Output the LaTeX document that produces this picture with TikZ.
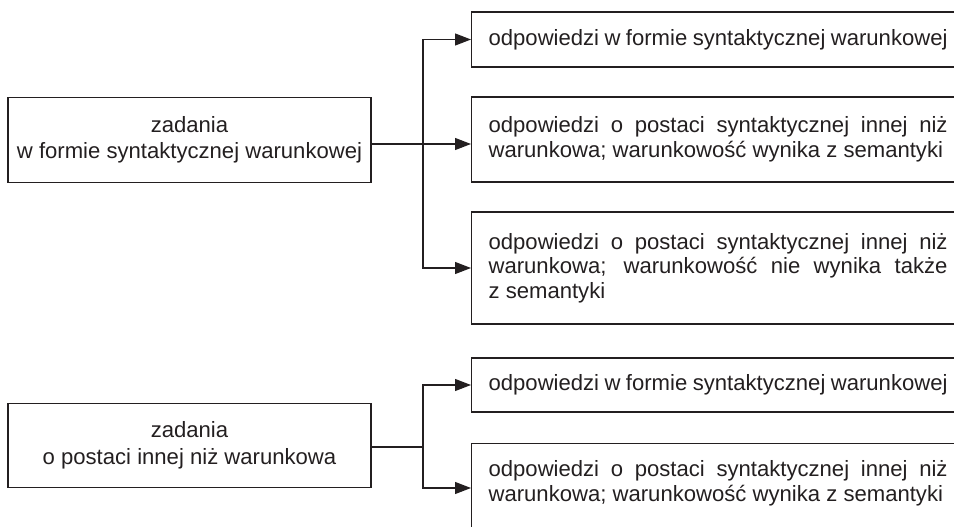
\documentclass[tikz,border=0pt]{standalone}
\usepackage{fontspec}
\setmainfont{Liberation Sans}
\usetikzlibrary{arrows.meta}
\definecolor{ink}{RGB}{35,31,32}
\hyphenpenalty=10000\relax
\exhyphenpenalty=10000\relax
\begin{document}
\begin{tikzpicture}[x=1pt,y=-1pt,
  every node/.style={font=\fontsize{22.1}{24.5}\selectfont, text=ink},
  lbox/.style={draw=ink, line width=1.2pt, minimum width=363pt, align=center, inner sep=0pt},
  rbox/.style={draw=ink, line width=1.2pt, text width=459pt, inner xsep=17pt, inner ysep=0pt, align=justify, anchor=west},
  conn/.style={draw=ink, line width=1.2pt},
  arr/.style={conn, -{Triangle[length=16pt,width=12pt]}},
  arrs/.style={conn, {Triangle[length=16pt,width=12pt]}-{Triangle[length=16pt,width=12pt]}}]
\useasboundingbox (0,0) rectangle (954,527);
\clip (0,0) rectangle (954,527);

% left boxes
\node[lbox, minimum height=85pt] (L1) at (189.5,140) {zadania\\[2pt]w formie syntaktycznej warunkowej};
\node[lbox, minimum height=84pt] (L2) at (189.5,445.5) {zadania\\[2pt]o postaci innej niż warunkowa};

% right boxes, top group
\node[rbox, minimum height=55pt] (B1) at (471,39.5) {odpowiedzi w~formie syntaktycznej warunkowej};
\node[rbox, minimum height=85pt] (B2) at (471,139.5) {odpowiedzi o~postaci syntaktycznej innej niż warunkowa; warunkowość wynika z~semantyki};
\node[rbox, minimum height=112pt] (B3) at (471,268) {odpowiedzi o~postaci syntaktycznej innej niż warunkowa; warunkowość nie wynika także z~semantyki};

% right boxes, bottom group
\node[rbox, minimum height=54pt] (B4) at (471,385) {odpowiedzi w~formie syntaktycznej warunkowej};
\node[rbox, anchor=north west, inner ysep=17pt] (B5) at (471,443) {odpowiedzi o~postaci syntaktycznej innej niż warunkowa; warunkowość wynika z~semantyki\par\rule{0pt}{40pt}};

% connectors
\coordinate (v1) at (423,0);
\coordinate (h1) at (0,144);
\coordinate (h2) at (0,447);
\coordinate (h5) at (0,488);

\draw[arrs] (B1.west) -- (B1.west -| v1) -- (B3.west -| v1) -- (B3.west);
\draw[arr] (L1.east |- h1) -- (B2.west |- h1);

\draw[arrs] (B4.west) -- (B4.west -| v1) -- (v1 |- h5) -- (B5.west |- h5);
\draw[conn] (L2.east |- h2) -- (v1 |- h2);
\end{tikzpicture}
\end{document}
